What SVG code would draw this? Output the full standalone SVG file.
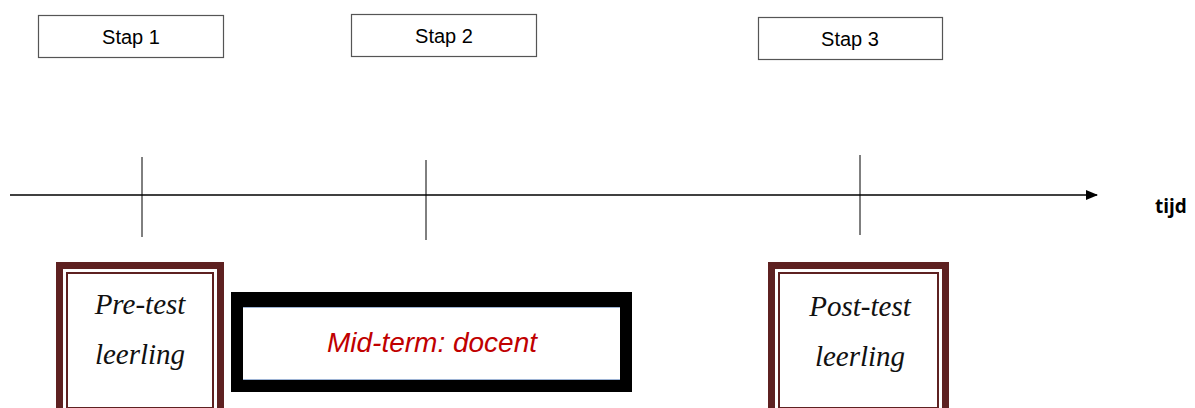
<svg xmlns="http://www.w3.org/2000/svg" width="1195" height="408" viewBox="0 0 1195 408">
<style>
.stap rect{fill:#fff;stroke:#555;stroke-width:1.2}
.stap text{font-family:"Liberation Sans",Arial,sans-serif;font-size:20px;fill:#000;text-anchor:middle}
.outer{fill:none;stroke:#5e2121;stroke-width:7}
.inner{fill:#fff;stroke:#5e2121;stroke-width:2}
.test{font-family:"Liberation Serif","DejaVu Serif",serif;font-style:italic;font-size:29px;fill:#111;text-anchor:middle}
.tick{stroke:#000;stroke-width:1}
</style>
<defs>
<marker id="arr" markerWidth="12" markerHeight="10" refX="11" refY="5" orient="auto" markerUnits="userSpaceOnUse">
<path d="M0,0 L12,5 L0,10 Z" fill="#000"/>
</marker>
</defs>
<rect width="1195" height="408" fill="#fff"/>
<g id="connectors">
<line x1="10" y1="195" x2="1097" y2="195" stroke="#000" stroke-width="1.5" marker-end="url(#arr)"/>
<line class="tick" x1="142" y1="157" x2="142" y2="237"/>
<line class="tick" x1="426" y1="160" x2="426" y2="240"/>
<line class="tick" x1="860" y1="155" x2="860" y2="235"/>
</g>
<g id="stap1" class="stap"><rect x="38.5" y="15.5" width="185" height="42"/><text x="131" y="44">Stap 1</text></g>
<g id="stap2" class="stap"><rect x="351.5" y="14.5" width="185" height="42"/><text x="444" y="43">Stap 2</text></g>
<g id="stap3" class="stap"><rect x="758.5" y="17.5" width="184" height="42"/><text x="850" y="46">Stap 3</text></g>
<g id="tijd"><text x="1155" y="213" font-family="'Open Sans','DejaVu Sans',sans-serif" font-weight="bold" font-size="19" fill="#000">tijd</text></g>
<g id="pretest">
<rect class="outer" x="59.5" y="265.5" width="161" height="150"/>
<rect class="inner" x="67" y="273" width="146" height="135"/>
<text class="test" x="140" y="314">Pre-test</text>
<text class="test" x="140" y="364">leerling</text>
</g>
<g id="midterm">
<rect x="231" y="292" width="401" height="100" fill="#000"/>
<rect x="243" y="307" width="377" height="73" fill="#fff"/>
<line x1="243" y1="307.5" x2="620" y2="307.5" stroke="#9db3d4" stroke-width="1.2"/>
<line x1="243" y1="379.5" x2="620" y2="379.5" stroke="#9db3d4" stroke-width="1.2"/>
<text x="432" y="352" font-family="'Liberation Sans',Arial,sans-serif" font-style="italic" font-size="28" fill="#c00000" text-anchor="middle">Mid-term: docent</text>
</g>
<g id="posttest">
<rect class="outer" x="771.5" y="265.5" width="174" height="150"/>
<rect class="inner" x="779" y="273" width="159" height="135"/>
<text class="test" x="860" y="316">Post-test</text>
<text class="test" x="860" y="366">leerling</text>
</g>
</svg>
